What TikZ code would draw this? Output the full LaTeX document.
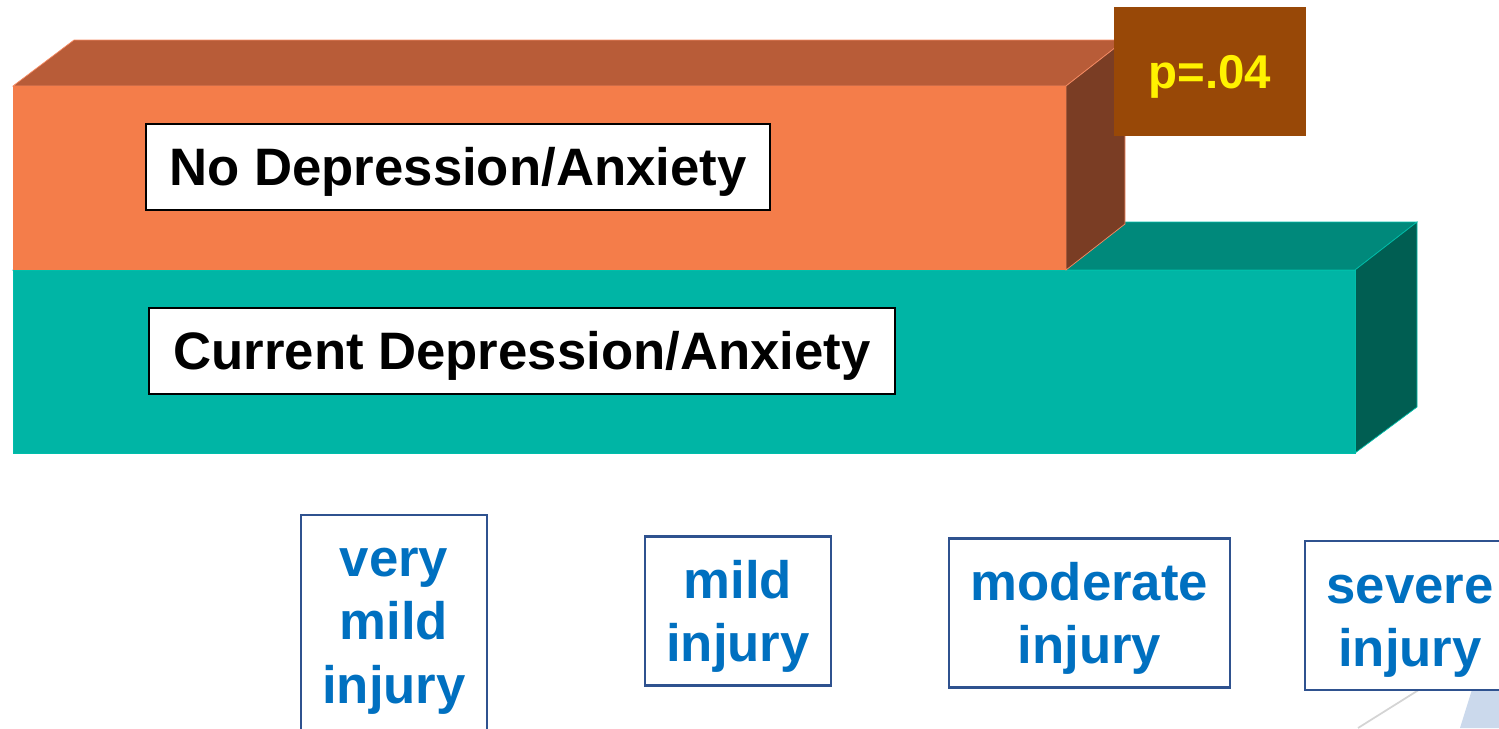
\documentclass[tikz,border=0pt]{standalone}
\usepackage{xcolor}
\usepackage{fontspec}
\setmainfont{Liberation Sans}
\usepackage{tikz}

\definecolor{orfront}{RGB}{244,125,74}
\definecolor{ortop}{RGB}{184,92,56}
\definecolor{orside}{RGB}{122,61,36}
\definecolor{oredge}{RGB}{246,140,100}
\definecolor{tlfront}{RGB}{0,181,165}
\definecolor{tltop}{RGB}{0,137,123}
\definecolor{tlside}{RGB}{0,94,82}
\definecolor{tledge}{RGB}{0,190,170}
\definecolor{pbrown}{RGB}{152,72,7}
\definecolor{injblue}{RGB}{0,112,192}
\definecolor{injframe}{RGB}{47,82,143}
\definecolor{paleblue}{RGB}{203,217,236}
\definecolor{paleline}{RGB}{212,212,212}

\begin{document}
\begin{tikzpicture}[x=0.02cm,y=-0.02cm,
  groupbox/.style={draw=black,line width=1.1pt,fill=white,inner sep=0pt,
    minimum height=1.72cm,text height=21.5pt,text depth=0pt,
    font=\fontsize{30}{36}\selectfont\bfseries},
  injurybox/.style={draw=injframe,line width=1.2pt,fill=white,inner sep=0pt,
    align=center,text=injblue,minimum height=2.98cm,
    text height=60pt,text depth=2pt,
    font=\fontsize{30}{36}\selectfont\bfseries}]
  \clip (0,0) rectangle (1499,728);

  % current depression/anxiety bar
  \filldraw[fill=tltop,draw=tledge] (13,270) -- (74,222) -- (1417,222) -- (1355,270) -- cycle;
  \filldraw[fill=tlside,draw=tledge] (1355,270) -- (1417,222) -- (1417,407) -- (1355,453) -- cycle;
  \filldraw[fill=tlfront,draw=tledge] (13,270) rectangle (1355,453);

  % no depression/anxiety bar
  \filldraw[fill=ortop,draw=oredge] (13,86) -- (74,40) -- (1125,40) -- (1066,86) -- cycle;
  \filldraw[fill=orside,draw=oredge] (1066,86) -- (1125,40) -- (1125,224) -- (1066,270) -- cycle;
  \fill[orfront] (13,86) rectangle (1066,270);

  \draw (458,167) node (nodep) [groupbox,minimum width=12.48cm] {No Depression/Anxiety};
  \draw (522,351) node (curdep) [groupbox,minimum width=14.92cm] {Current Depression/Anxiety};

  \draw (1210,71.5) node (pval) [fill=pbrown,text=yellow,inner sep=0pt,
    minimum width=3.84cm,minimum height=2.58cm,text height=19.3pt,text depth=0pt,
    font=\fontsize{27}{32}\selectfont\bfseries] {p=.04};

  \fill[paleblue] (1475,680) -- (1499,680) -- (1499,728) -- (1460,728) -- cycle;
  \draw[paleline,line width=1pt] (1425,686) -- (1358,728);

  \draw (394,627.5) node (vmild) [injurybox,minimum width=3.72cm,minimum height=4.5cm,
    text height=88pt,text depth=2pt] {very\\mild\\injury};
  \draw (738,611) node (mild) [injurybox,minimum width=3.72cm] {mild\\injury};
  \draw (1089.5,613) node (moder) [injurybox,minimum width=5.62cm] {moderate\\injury};
  \draw (1410,615.5) node (severe) [injurybox,minimum width=4.2cm] {severe\\injury};
\end{tikzpicture}
\end{document}
